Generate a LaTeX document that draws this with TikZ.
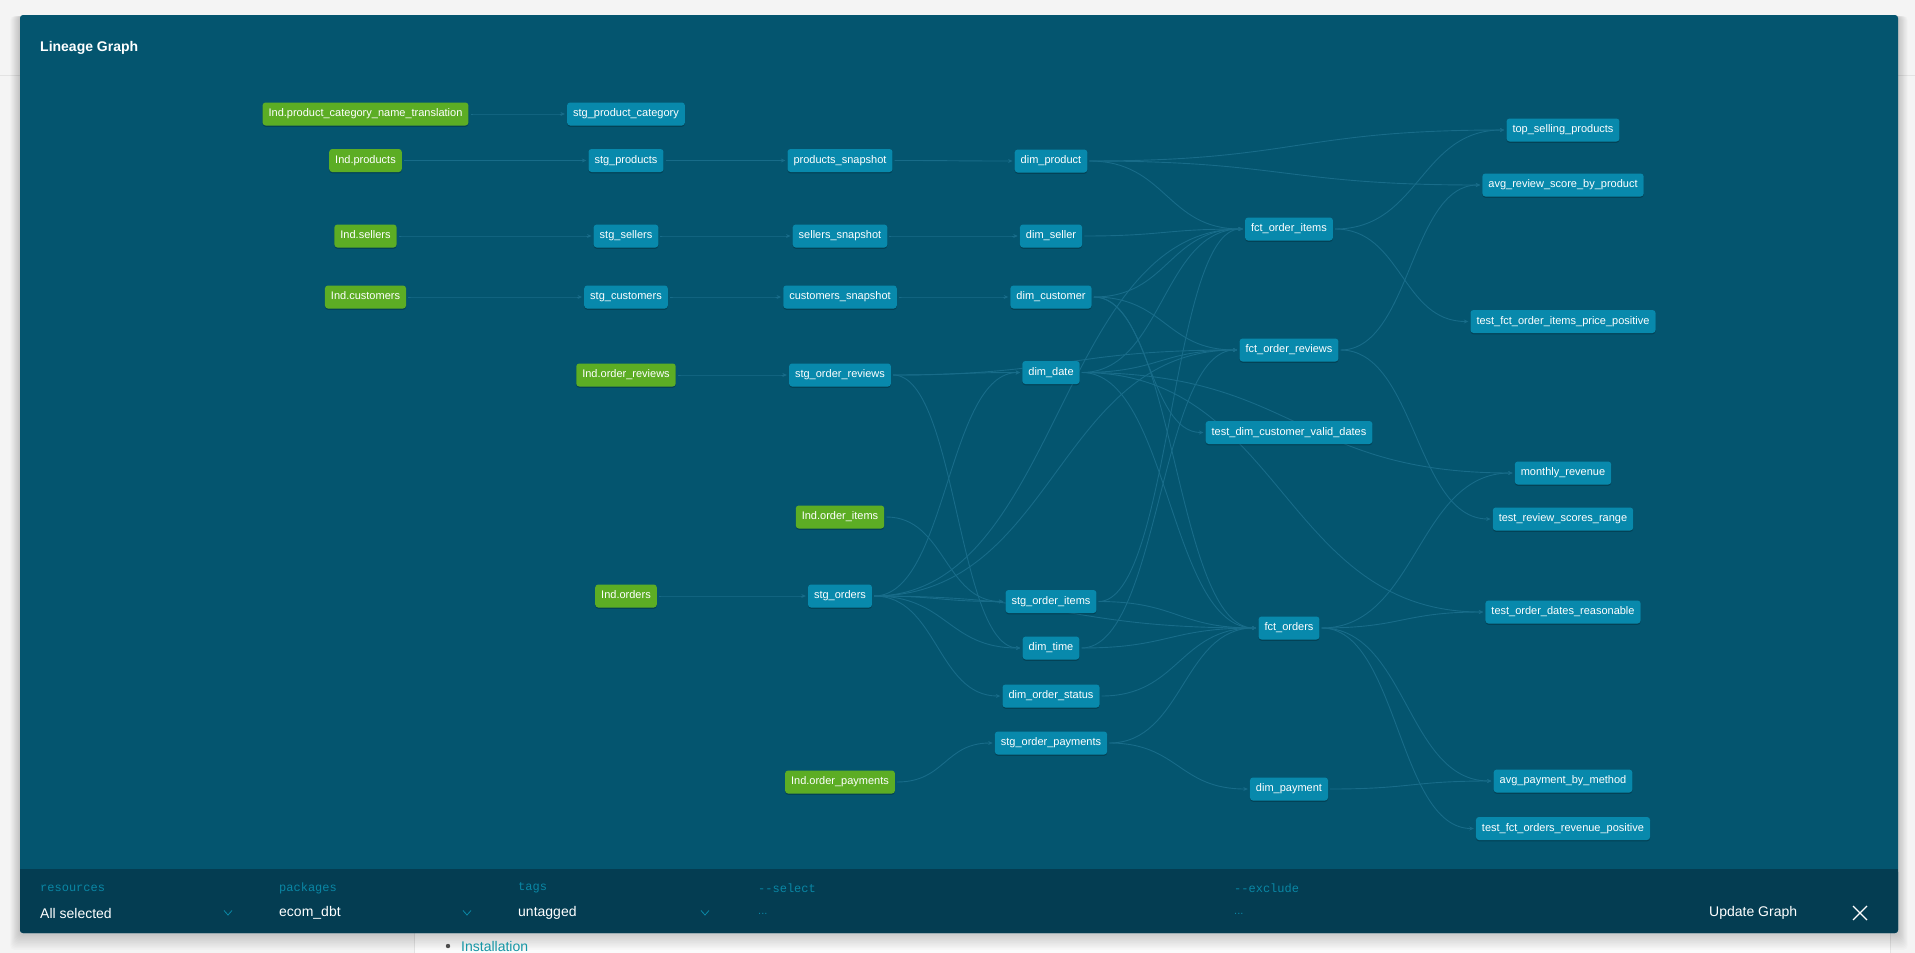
\documentclass[tikz,border=0pt]{standalone}
\usepackage{fontspec}
\setmainfont{Liberation Sans}
\setmonofont{Liberation Mono}
\usetikzlibrary{calc,arrows.meta,shadows}
\definecolor{pagebg}{RGB}{244,244,244}
\definecolor{panelbg}{RGB}{4,85,111}
\definecolor{barbg}{RGB}{4,61,82}
\definecolor{modelblue}{RGB}{8,137,172}
\definecolor{sourcegreen}{RGB}{92,173,36}
\definecolor{edgecol}{RGB}{24,108,137}
\definecolor{labelteal}{RGB}{10,135,165}
\definecolor{linkteal}{RGB}{20,150,165}
\pgfdeclarelayer{back}
\pgfdeclarelayer{edges}
\pgfsetlayers{back,edges,main}
\begin{document}
\begin{tikzpicture}[x=1pt,y=-1pt,
  box/.style={rounded corners=3pt, text=white, font=\fontsize{11}{13}\selectfont,
    inner xsep=6pt, inner ysep=0pt, minimum height=23pt, text height=8pt, text depth=2.5pt,
    drop shadow={shadow xshift=0pt, shadow yshift=-1.3pt, fill=black, opacity=0.22}},
  model/.style={box, fill=modelblue},
  source/.style={box, fill=sourcegreen},
  flow/.style={draw=edgecol, line width=0.9pt, -{Stealth[length=4.5pt,width=4pt]},
    shorten >=2pt, shorten <=2pt,
    to path={let \p1=(\tikztostart), \p2=(\tikztotarget), \n1={(\x1+\x2)/2} in
      .. controls (\n1,\y1) and (\n1,\y2) .. (\tikztotarget)}},
  barlabel/.style={anchor=west, inner sep=0pt, text=labelteal, font=\ttfamily\fontsize{12}{14}\selectfont},
  barvalue/.style={anchor=west, inner sep=0pt, text=white, font=\fontsize{14}{16}\selectfont},
  chevron/.style={draw=labelteal, line width=0.8pt}
]
\useasboundingbox (0,0) rectangle (1915,953);

% page, header rule, sidebar divider and panel with its shadow
\begin{pgfonlayer}{back}
  \fill[pagebg] (0,0) rectangle (1915,953);
  \fill[white!97!gray] (414,933) rectangle (1890,953);
  \draw[gray!22, line width=1pt] (0,75.5) -- (1915,75.5);
  \draw[gray!22, line width=1pt] (414.5,933) -- (414.5,953);
  \draw[gray!22, line width=1pt] (1890.5,933) -- (1890.5,953);
  \foreach \s in {1,...,12}
    \fill[black, opacity=0.016, rounded corners=4pt]
      (20-\s*0.8,16) rectangle (1898+\s*0.8,933+\s*1.4);
  \fill[panelbg, rounded corners=3pt] (20,15) rectangle (1898,933);
  \fill[barbg, rounded corners=3pt] (20,869) rectangle (1898,933);
  \fill[barbg] (20,869) rectangle (1898,876);
\end{pgfonlayer}

\node[anchor=west, inner sep=0pt, text=white, font=\bfseries\fontsize{14}{16}\selectfont] (title) at (40,48) {Lineage Graph};

% sources
\node[source] (lpcnt) at (365.5,114) {Ind.product\_category\_name\_translation};
\node[source] (lprod) at (365.5,160.5) {Ind.products};
\node[source] (lsell) at (365.5,236) {Ind.sellers};
\node[source] (lcust) at (365.5,297) {Ind.customers};
\node[source] (lrev) at (626,375) {Ind.order\_reviews};
\node[source] (lord) at (626,596) {Ind.orders};
\node[source] (loi) at (840,517) {Ind.order\_items};
\node[source] (lpay) at (840,782) {Ind.order\_payments};

% staging and snapshots
\node[model] (spc) at (626,114) {stg\_product\_category};
\node[model] (sprod) at (626,160.5) {stg\_products};
\node[model] (ssell) at (626,236) {stg\_sellers};
\node[model] (scust) at (626,297) {stg\_customers};
\node[model] (psnap) at (840,160.5) {products\_snapshot};
\node[model] (ssnap) at (840,236) {sellers\_snapshot};
\node[model] (csnap) at (840,297) {customers\_snapshot};
\node[model] (srev) at (840,375) {stg\_order\_reviews};
\node[model] (sord) at (840,596) {stg\_orders};

% dimensions and staged order tables
\node[model] (dprod) at (1051,161) {dim\_product};
\node[model] (dsell) at (1051,236) {dim\_seller};
\node[model] (dcust) at (1051,297) {dim\_customer};
\node[model] (ddate) at (1051,372.5) {dim\_date};
\node[model] (soi) at (1051,601.5) {stg\_order\_items};
\node[model] (dtime) at (1051,648) {dim\_time};
\node[model] (dstat) at (1051,696) {dim\_order\_status};
\node[model] (spay) at (1051,743) {stg\_order\_payments};

% facts
\node[model] (foi) at (1289,229) {fct\_order\_items};
\node[model] (frev) at (1289,350) {fct\_order\_reviews};
\node[model] (tdc) at (1289,432.5) {test\_dim\_customer\_valid\_dates};
\node[model] (ford) at (1289,628) {fct\_orders};
\node[model] (dpay) at (1289,789) {dim\_payment};

% marts and tests
\node[model] (top) at (1563,130) {top\_selling\_products};
\node[model] (avgr) at (1563,185) {avg\_review\_score\_by\_product};
\node[model] (tfoi) at (1563,321.5) {test\_fct\_order\_items\_price\_positive};
\node[model] (mrev) at (1563,473) {monthly\_revenue};
\node[model] (trev) at (1563,519) {test\_review\_scores\_range};
\node[model] (tord) at (1563,612) {test\_order\_dates\_reasonable};
\node[model] (avgp) at (1563,781) {avg\_payment\_by\_method};
\node[model] (tfor) at (1563,828.5) {test\_fct\_orders\_revenue\_positive};

% lineage edges
\begin{pgfonlayer}{edges}
\foreach \a/\b in {lpcnt/spc, lprod/sprod, sprod/psnap, psnap/dprod,
  lsell/ssell, ssell/ssnap, ssnap/dsell, lcust/scust, scust/csnap, csnap/dcust,
  lrev/srev, srev/ddate, srev/frev, srev/dtime, loi/soi, lord/sord,
  sord/ddate, sord/foi, sord/frev, sord/soi, sord/ford, sord/dtime, sord/dstat,
  lpay/spay, spay/ford, spay/dpay,
  dprod/top, dprod/avgr, dprod/foi, dsell/foi,
  dcust/foi, dcust/frev, dcust/tdc, dcust/ford,
  ddate/foi, ddate/frev, ddate/ford, ddate/mrev, ddate/tord,
  soi/foi, soi/ford, dtime/frev, dtime/ford, dstat/ford,
  foi/top, foi/tfoi, frev/avgr, frev/trev,
  ford/mrev, ford/tord, ford/avgp, ford/tfor, dpay/avgp}
  \draw[flow] (\a.east) to (\b.west);
\end{pgfonlayer}

% selector bar
\node[barlabel] (lres) at (40,888) {resources};
\node[barvalue] (vres) at (40,913) {All selected};
\node[barlabel] (lpkg) at (279,888) {packages};
\node[barvalue] (vpkg) at (279,913) {ecom\_dbt};
\node[barlabel] (ltag) at (518,888) {tags};
\node[barvalue] (vtag) at (518,913) {untagged};
\node[barlabel] (lsel) at (758,888) {-{}-select};
\node[anchor=west, inner sep=0pt, text=labelteal, font=\fontsize{11}{13}\selectfont] (vsel) at (758,914) {...};
\node[barlabel] (lexc) at (1234,888) {-{}-exclude};
\node[anchor=west, inner sep=0pt, text=labelteal, font=\fontsize{11}{13}\selectfont] (vexc) at (1234,914) {...};
\foreach \cx in {228,467,705}
  \draw[chevron] (\cx-4,910.5) -- (\cx,915) -- (\cx+4,910.5);
\node[barvalue] (upd) at (1709,913) {Update Graph};
\draw[white, line width=1.2pt] (1853,906) -- (1867,920) (1867,906) -- (1853,920);

% page content below the panel
\fill[gray!60!black] (448,946) circle (2.2pt);
\node[anchor=west, inner sep=0pt, text=linkteal, font=\fontsize{14}{16}\selectfont] (inst) at (461,946) {Installation};
\end{tikzpicture}
\end{document}
